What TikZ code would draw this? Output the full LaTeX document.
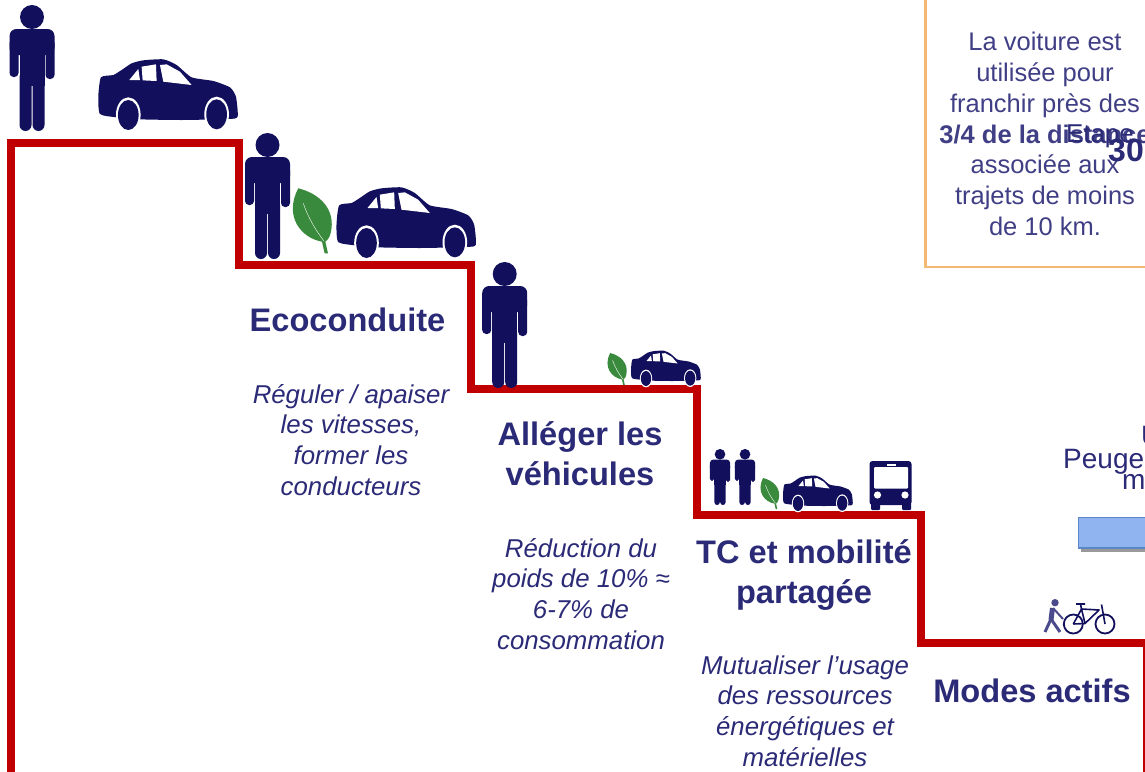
\documentclass[tikz,border=0pt]{standalone}
\usepackage{fontspec}
\setmainfont{Liberation Sans}
\usepackage{tikz}
\definecolor{navyfig}{HTML}{120F5C}
\definecolor{navytxt}{HTML}{2B2A77}
\definecolor{redstair}{HTML}{C00000}
\definecolor{leafgreen}{HTML}{3A8A3E}
\definecolor{boxorange}{HTML}{F3B972}
\definecolor{barfill}{HTML}{8FB4F0}
\definecolor{barline}{HTML}{5B86C8}
\tikzset{
  figr/.initial=1,
  titlelabel/.style={inner sep=0pt,align=center,text=navytxt,font=\fontsize{32.6}{39.8}\selectfont\bfseries},
  desclabel/.style={inner sep=0pt,align=center,text=navytxt,font=\fontsize{25.8}{30.8}\selectfont\itshape},
  boxlabel/.style={inner sep=0pt,align=center,text=navytxt!90!white,font=\fontsize{25.5}{30.8}\selectfont},
  cutlabel/.style={anchor=base west,inner sep=0pt,text=navytxt,font=\fontsize{28}{30}\selectfont},
  person/.pic={
    \fill[navyfig] (0,-114) circle (12);
    \fill[navyfig,rounded corners={\pgfkeysvalueof{/tikz/figr}*7pt}] (-22.5,-102) rectangle (22.5,-76);
    \fill[navyfig,rounded corners={\pgfkeysvalueof{/tikz/figr}*4pt}] (-22.5,-92) rectangle (-13.5,-54);
    \fill[navyfig,rounded corners={\pgfkeysvalueof{/tikz/figr}*4pt}] (13.5,-92) rectangle (22.5,-52);
    \fill[navyfig] (-12.5,-95) rectangle (12.5,-45);
    \fill[navyfig,rounded corners={\pgfkeysvalueof{/tikz/figr}*6pt}] (-12.5,-60) rectangle (-0.5,0);
    \fill[navyfig,rounded corners={\pgfkeysvalueof{/tikz/figr}*6pt}] (0.5,-60) rectangle (12.5,0);
  },
  car/.pic={
    \fill[navyfig] plot[smooth cycle,tension=.35] coordinates {(8,-158) (45,-165) (70,-180) (100,-200) (135,-209) (195,-212) (235,-195) (280,-158) (345,-147) (395,-128) (413,-100) (418,-40) (390,-33) (250,-30) (125,-32) (55,-38) (5,-48) (0,-100)};
    \fill[white] (93,-150) -- (120,-183) -- (125,-150) -- cycle;
    \fill[white] (130,-190) -- (173,-197) -- (175,-147) -- (133,-149) -- cycle;
    \fill[white] (185,-195) -- (205,-197) -- (245,-175) -- (280,-135) -- (195,-145) -- cycle;
    \fill[white] (90,-45) ellipse (37 and 53);
    \fill[white] (355,-47) ellipse (37 and 53);
    \fill[navyfig] (90,-45) ellipse (31 and 45);
    \fill[navyfig] (355,-47) ellipse (31 and 45);
  },
  leaf/.pic={
    \fill[leafgreen] (15,0) .. controls (75,15) and (130,60) .. (112,135) .. controls (109,148) and (102,156) .. (96,160) -- (104,195) -- (94,195) -- (86,160) .. controls (25,150) and (-30,85) .. (15,0) -- cycle;
    \draw[white,line width=.4pt] (30,45) .. controls (45,90) and (70,130) .. (92,158);
  },
}
\begin{document}
\begin{tikzpicture}[x=1pt,y=-1pt]
  \path[use as bounding box,clip] (0,0) rectangle (1145,771);

  % text box, top right
  \draw[boxorange,line width=2.2pt] (925.5,-5) -- (925.5,267) -- (1150,267);
  \node[boxlabel] (boxtext) at (1045,134) {La voiture est\\utilisée pour\\franchir près des\\\textbf{3/4 de la distance}\\associée aux\\trajets de moins\\de 10 km.};
  \node[anchor=base west,inner sep=0pt,text=navytxt,font=\fontsize{25.8}{30}\selectfont] (etape) at (1066,142) {Etape};
  \node[anchor=base west,inner sep=0pt,text=navytxt,font=\fontsize{32}{36}\selectfont\bfseries] (trente) at (1108,161) {30};

  % cut off texts on the right
  \node[cutlabel] (peuge) at (1063,468) {Peuge};
  \node[cutlabel] (m) at (1122,489) {m};
  \node[cutlabel] (u) at (1141,445) {U};
  \fill[black!40] (1081,521) rectangle (1150,551.5);
  \draw[draw=barline,fill=barfill,line width=1.2pt] (1078.5,517.5) rectangle (1150,548);

  % stairs
  \draw[redstair,line width=8pt,line join=miter] (11,780) -- (11,143) -- (239,143) -- (239,265) -- (471,265) -- (471,389) -- (697,389) -- (697,515) -- (920.5,515) -- (920.5,643) -- (1150,643);
  \draw[redstair,line width=1.5pt] (1144,643) -- (1144,780);

  % figures
  \pic at (32,131) {person};
  \pic[scale=.3333] at (98.3,130) {car};
  \pic at (267.5,259) {person};
  \pic[scale=.3333] at (293.3,188.3) {leaf};
  \pic[scale=.3333] at (336.5,258) {car};
  \pic at (504.7,388) {person};
  \pic[scale=.165] at (607.7,353) {leaf};
  \pic[scale=.1667] at (631,386) {car};
  \pic[scale=.445,figr=.445] at (720,505) {person};
  \pic[scale=.445,figr=.445] at (745,505) {person};
  \pic[scale=.16] at (760.7,478) {leaf};
  \pic[scale=.1667] at (783,511) {car};

  % bus
  \fill[navyfig,rounded corners=3pt] (869.5,461) rectangle (911.5,505);
  \fill[navyfig,rounded corners=1pt] (871,500) rectangle (880,510);
  \fill[navyfig,rounded corners=1pt] (902,500) rectangle (911,510);
  \fill[white,rounded corners=1pt] (874,467) rectangle (908,488.5);
  \fill[white] (886.5,463.5) rectangle (896,465.5);
  \fill[white] (877.5,495) circle (3.6);
  \fill[white] (905,495) circle (3.6);

  % walker and bike
  \fill[navytxt!85!white] (1055,602.7) circle (3.7);
  \draw[navytxt!85!white,line width=5pt] (1052.5,608) -- (1051,620);
  \draw[navytxt!85!white,line width=3pt,line join=round] (1051,619) -- (1045,632);
  \draw[navytxt!85!white,line width=3pt,line join=round] (1051,619) -- (1060,632);
  \draw[navytxt!85!white,line width=2pt] (1053,608) -- (1063,619);
  \draw[navyfig,line width=1.8pt] (1073.3,624) circle (9.5);
  \draw[navyfig,line width=1.8pt] (1105,624) circle (9.5);
  \draw[navyfig,line width=1.6pt,line join=round] (1073.3,624) -- (1081.5,609) -- (1085,623.5) -- (1099,610) -- (1081.5,609);
  \draw[navyfig,line width=1.6pt] (1073.3,624) -- (1085,623.5);
  \draw[navyfig,line width=1.6pt] (1105,624) -- (1101.5,604.5);
  \draw[navyfig,line width=1.6pt] (1081.5,609) -- (1080.5,604) (1076,604) -- (1085,604);

  % labels below the steps
  \node[titlelabel] (ecoconduite) at (347.5,320) {Ecoconduite};
  \node[desclabel] (ecotext) at (351,440) {Réguler / apaiser\\les vitesses,\\former les\\conducteurs};
  \node[titlelabel] (alleger) at (580,454) {Alléger les\\véhicules};
  \node[desclabel] (allegertext) at (581,594) {Réduction du\\poids de 10\% ≈\\6-7\% de\\consommation};
  \node[titlelabel] (tcmob) at (804,575) {TC et mobilité\\partagée};
  \node[desclabel] (tctext) at (805,711) {Mutualiser l’usage\\des ressources\\énergétiques et\\matérielles};
  \node[titlelabel] (modes) at (1032,691) {Modes actifs};
\end{tikzpicture}
\end{document}
